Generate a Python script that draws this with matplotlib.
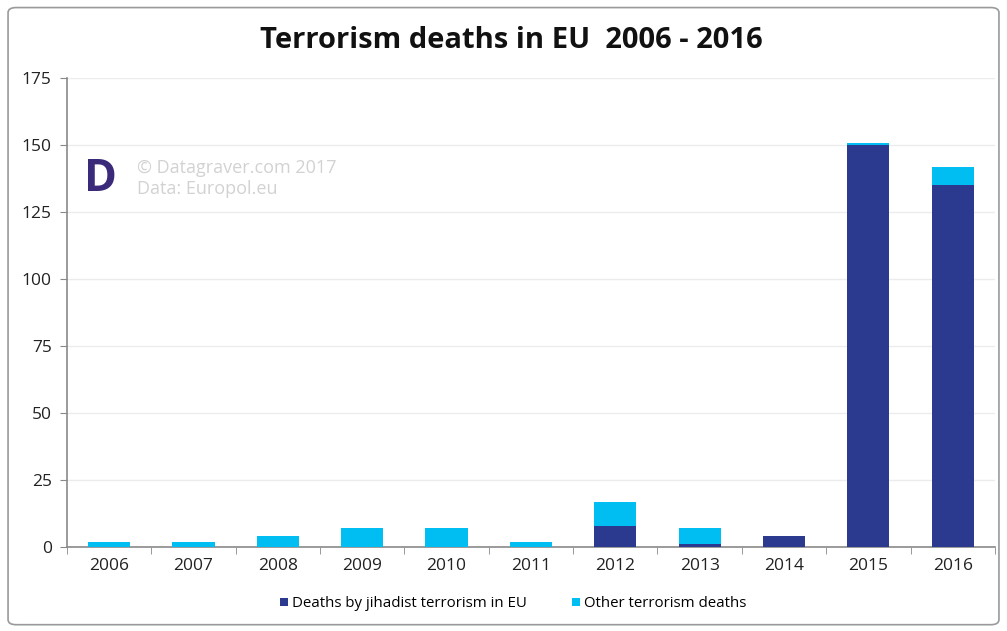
import matplotlib.pyplot as plt
import numpy as np
from matplotlib.patches import FancyBboxPatch

years = ['2006', '2007', '2008', '2009', '2010', '2011', '2012', '2013', '2014', '2015', '2016']
jihadist = [0, 0, 0, 0, 0, 0, 8, 1, 4, 150, 135]
other = [2, 2, 4, 7, 7, 2, 9, 6, 0, 1, 7]
yticks = [0, 25, 50, 75, 100, 125, 150, 175]

dark_blue = '#2B3A8F'
light_blue = '#00BDF2'

plt.rcParams['font.family'] = ['Open Sans', 'DejaVu Sans']

fig = plt.figure(figsize=(10.07, 6.31), dpi=100)
fig.patches.append(FancyBboxPatch((0.008, 0.01), 0.984, 0.978, boxstyle='round,pad=0,rounding_size=0.008',
                                  transform=fig.transFigure, fill=False, edgecolor='#9a9a9a', linewidth=1.2))

ax = fig.add_axes([0.0665, 0.133, 0.9215, 0.743])
x = np.arange(len(years))
ax.bar(x, jihadist, width=0.5, color=dark_blue, label='Deaths by jihadist terrorism in EU', zorder=3)
ax.bar(x, other, width=0.5, bottom=jihadist, color=light_blue, label='Other terrorism deaths', zorder=3)

ax.set_xlim(-0.5, len(years) - 0.5)
ax.set_ylim(0, 175)
ax.set_yticks(yticks)
ax.set_yticklabels([str(v) for v in yticks], fontsize=12.5, color='#222222')
ax.set_xticks(x)
ax.set_xticklabels(years, fontsize=12.5, color='#222222')
ax.tick_params(axis='x', length=0, pad=8)
ax.set_xticks(np.arange(-0.5, len(years)), minor=True)
ax.tick_params(axis='x', which='minor', length=5, color='#888888')
ax.tick_params(axis='y', length=5, color='#888888', pad=6)
ax.grid(axis='y', color='#ececec', linewidth=1, zorder=0)
for s in ['top', 'right']:
    ax.spines[s].set_visible(False)
for s in ['left', 'bottom']:
    ax.spines[s].set_color('#8a8a8a')
    ax.spines[s].set_linewidth(1.2)

fig.text(0.508, 0.936, 'Terrorism deaths in EU  2006 - 2016', ha='center', va='center',
         fontsize=21, fontweight='bold', color='#111111')

# watermark
fig.text(0.1, 0.715, 'D', fontsize=32, fontweight='bold', color='#3b2a7a', ha='center', va='center')
fig.text(0.136, 0.734, '\u00a9 Datagraver.com 2017', fontsize=13, color='#d2d2d2', va='center')
fig.text(0.136, 0.700, 'Data: Europol.eu', fontsize=13, color='#d2d2d2', va='center')

fig.legend(loc='center', bbox_to_anchor=(0.51, 0.043), ncol=2, frameon=False, fontsize=10.8,
           handlelength=0.5, handleheight=0.5, handletextpad=0.3, columnspacing=3)

fig.savefig('out.png', dpi=100)
